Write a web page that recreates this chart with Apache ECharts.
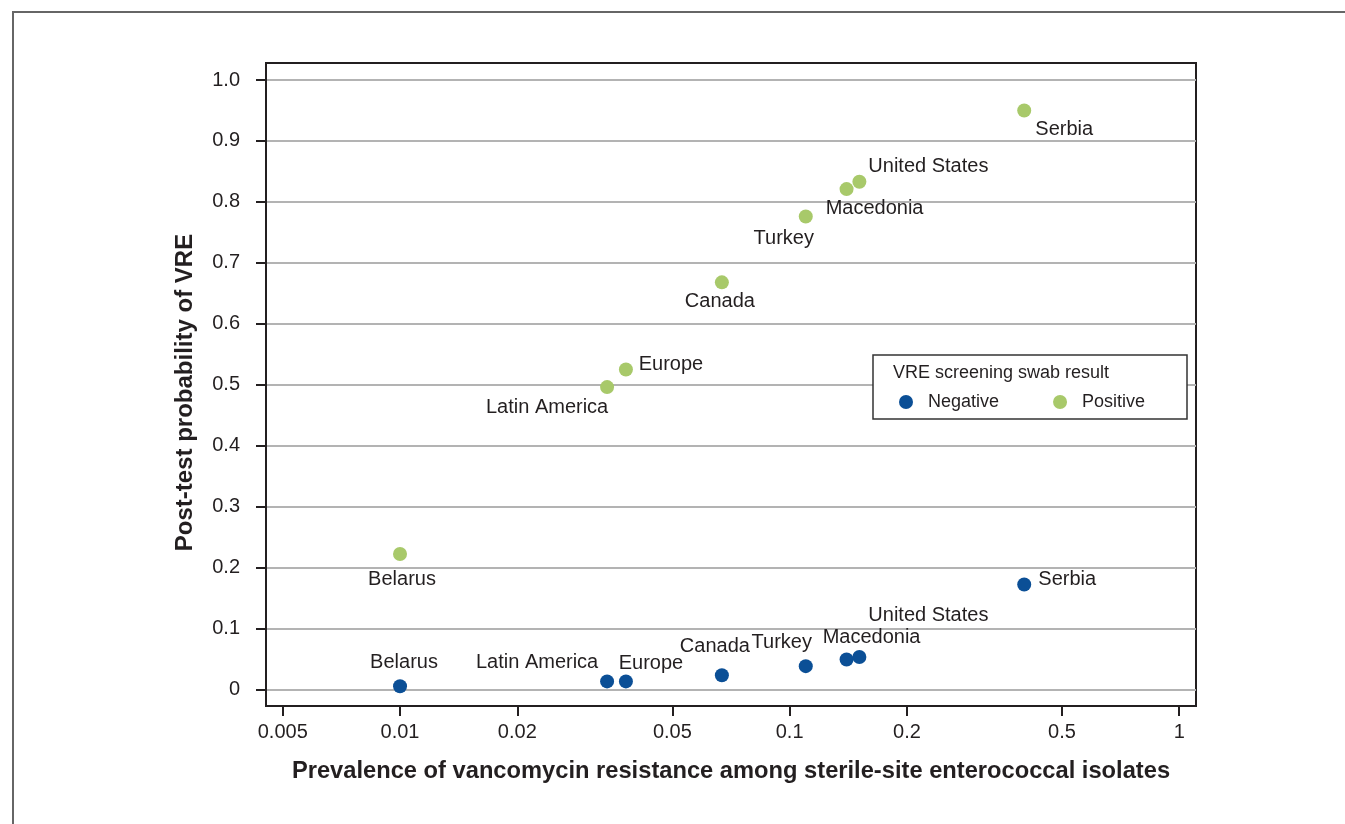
<!DOCTYPE html>
<html>
<head>
<meta charset="utf-8">
<title>Post-test probability of VRE</title>
<script src="https://cdn.jsdelivr.net/npm/echarts@6/dist/echarts.min.js"></script>
<style>
  html, body { margin: 0; padding: 0; background: #fff; }
  #chart { width: 1345px; height: 824px; }
</style>
</head>
<body>
<div id="chart"></div>
<script>
// countries, in order of prevalence
const countries = ['Belarus', 'Latin America', 'Europe', 'Canada', 'Turkey', 'Macedonia', 'United States', 'Serbia'];
// prevalence of vancomycin resistance (x, log scale)
const prevalence = [0.010, 0.034, 0.038, 0.067, 0.110, 0.140, 0.151, 0.400];
// post-test probability after a negative / positive swab
const negativeProb = [0.005, 0.013, 0.013, 0.023, 0.038, 0.049, 0.053, 0.172];
const positiveProb = [0.222, 0.496, 0.525, 0.668, 0.776, 0.821, 0.833, 0.950];
// tick labels
const xTicks = [0.005, 0.01, 0.02, 0.05, 0.1, 0.2, 0.5, 1];
const yTicks = [0, 0.1, 0.2, 0.3, 0.4, 0.5, 0.6, 0.7, 0.8, 0.9, 1.0];

// label offsets (px from the dot to the text centre)
const negLabelOffset = {
  'Belarus': [4, -24], 'Latin America': [-70, -19], 'Europe': [25, -18], 'Canada': [-7, -29],
  'Turkey': [-24, -24], 'Macedonia': [25, -22], 'United States': [69, -42], 'Serbia': [43, -5]
};
const posLabelOffset = {
  'Belarus': [2, 25], 'Latin America': [-60, 20], 'Europe': [45, -5], 'Canada': [-2, 19],
  'Turkey': [-22, 22], 'Macedonia': [28, 19], 'United States': [69, -15], 'Serbia': [40, 19]
};

const FONT = '"Liberation Sans", Arial, Helvetica, sans-serif';
const TEXT = '#231f20';
const log10 = v => Math.log(v) / Math.LN10;

function buildData(values, offsets) {
  return countries.map(function (c, i) {
    return {
      name: c,
      value: [log10(prevalence[i]), values[i]],
      label: { offset: offsets[c] }
    };
  });
}

function seriesOf(name, values, color, offsets) {
  return {
    name: name,
    type: 'scatter',
    symbol: 'circle',
    symbolSize: 14,
    itemStyle: { color: color, opacity: 1 },
    label: {
      show: true,
      position: 'inside',
      align: 'center',
      verticalAlign: 'middle',
      formatter: p => p.name,
      color: TEXT,
      fontFamily: FONT,
      fontSize: 20
    },
    emphasis: { disabled: true },
    data: buildData(values, offsets)
  };
}

const chart = echarts.init(document.getElementById('chart'), null, { renderer: 'canvas' });

const option = {
  animation: false,
  textStyle: { fontFamily: FONT, color: TEXT },
  grid: {
    left: 266, right: 149, top: 63, bottom: 118,
    show: true, borderColor: '#231f20', borderWidth: 2, backgroundColor: 'transparent'
  },
  xAxis: {
    type: 'value',
    min: -2.344,
    max: 0.043,
    name: 'Prevalence of vancomycin resistance among sterile-site enterococcal isolates',
    nameLocation: 'middle',
    nameGap: 53,
    nameTextStyle: { fontFamily: FONT, fontSize: 23.7, fontWeight: 'bold', color: TEXT },
    axisLine: { show: true, onZero: false, lineStyle: { color: '#231f20', width: 2 } },
    axisTick: { show: true, length: 10, lineStyle: { color: '#231f20', width: 2 }, customValues: xTicks.map(log10) },
    axisLabel: {
      customValues: xTicks.map(log10),
      margin: 16,
      fontSize: 20,
      color: TEXT,
      fontFamily: FONT,
      formatter: v => String(parseFloat(Math.pow(10, v).toPrecision(3)))
    },
    splitLine: { show: false }
  },
  yAxis: {
    type: 'value',
    min: -0.0274,
    max: 1.028,
    name: 'Post-test probability of VRE',
    nameLocation: 'middle',
    nameGap: 69,
    nameTextStyle: { fontFamily: FONT, fontSize: 24, fontWeight: 'bold', color: TEXT, padding: [0, 16, 0, 0] },
    axisLine: { show: true, onZero: false, lineStyle: { color: '#231f20', width: 2 } },
    axisTick: { show: true, length: 10, lineStyle: { color: '#231f20', width: 2 }, customValues: yTicks },
    axisLabel: {
      customValues: yTicks,
      margin: 26,
      fontSize: 20,
      color: TEXT,
      fontFamily: FONT,
      formatter: v => (Math.abs(v) < 1e-9 ? '0' : v.toFixed(1))
    },
    splitLine: { show: true, lineStyle: { color: '#b3b3b3', width: 2 } }
  },
  legend: {
    data: ['Negative', 'Positive'],
    left: 899,
    top: 393,
    padding: 0,
    itemWidth: 34,
    itemHeight: 14,
    itemGap: 54,
    icon: 'circle',
    z: 10,
    textStyle: { fontFamily: FONT, fontSize: 18, color: TEXT }
  },
  graphic: [
    {
      type: 'rect', z: 100, silent: true,
      shape: { x: 13, y: 12, width: 1400, height: 900 },
      style: { fill: 'none', stroke: '#666', lineWidth: 2 }
    },
    {
      type: 'rect', z: 5, silent: true,
      shape: { x: 873, y: 355, width: 314, height: 64 },
      style: { fill: '#fff', stroke: '#333', lineWidth: 1.5 }
    },
    {
      type: 'text', z: 6, silent: true,
      x: 893, y: 373,
      style: { text: 'VRE screening swab result', fill: TEXT, font: '18px ' + FONT, textVerticalAlign: 'middle' }
    }
  ],
  series: [
    seriesOf('Negative', negativeProb, '#0b4f96', negLabelOffset),
    seriesOf('Positive', positiveProb, '#a8c96a', posLabelOffset)
  ]
};

chart.setOption(option);
</script>
</body>
</html>
